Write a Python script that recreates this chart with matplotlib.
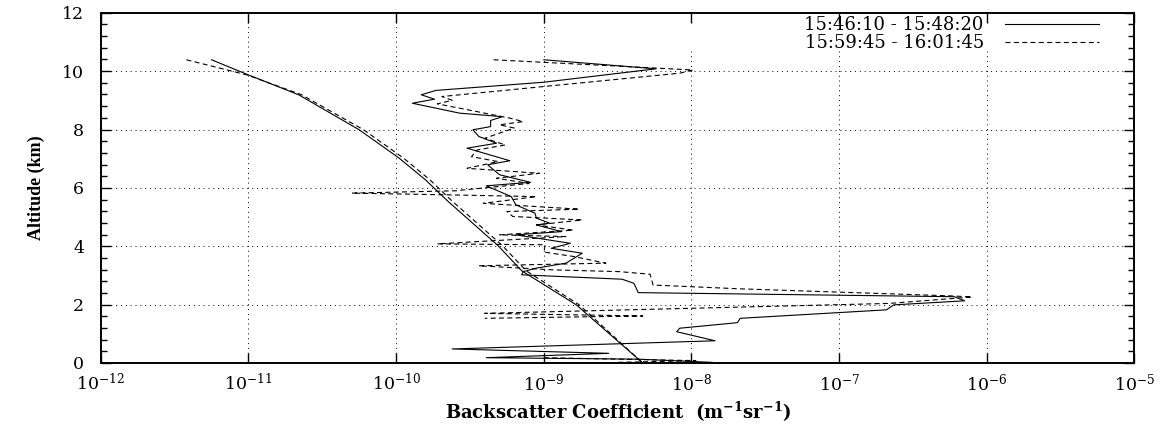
import numpy as np
import matplotlib
matplotlib.use("Agg")
import matplotlib.pyplot as plt
from matplotlib.ticker import MultipleLocator, LogLocator, NullLocator

plt.rcParams['font.family'] = ['DejaVu Serif']
plt.rcParams['mathtext.fontset'] = 'custom'
plt.rcParams['mathtext.rm'] = 'DejaVu Serif'
plt.rcParams['mathtext.bf'] = 'DejaVu Serif:bold'

labels = ['15:46:10 - 15:48:20', '15:59:45 - 16:01:45']

# first profile: altitude (km) and log10 of backscatter (m^-1 sr^-1)
alt_a = [10.39, 10.08, 9.62, 9.34, 9.19, 9.04, 8.90, 8.56, 8.44, 8.31, 8.10,
         7.99, 7.76, 7.53, 7.36, 6.93, 6.79, 6.45, 6.19, 6.07, 5.70, 5.42,
         5.13, 4.96, 4.79, 4.73, 4.50, 4.39, 4.10, 3.93, 3.76, 3.42, 3.25,
         3.13, 3.02, 2.87, 2.73, 2.41, 2.27, 2.13, 1.99, 1.82, 1.53, 1.38,
         1.19, 1.07, 0.76, 0.48, 0.33, 0.18, 0.13, 0.02]
logb_a = [-9.00, -8.24, -9.00, -9.73, -9.83, -9.74, -9.89, -9.57, -9.28, -9.36, -9.36,
          -9.48, -9.44, -9.32, -9.52, -9.23, -9.38, -9.30, -9.09, -9.39, -9.22, -9.19,
          -9.06, -9.05, -8.96, -9.05, -8.88, -9.19, -8.82, -8.95, -8.74, -8.85, -9.05,
          -9.14, -9.15, -8.47, -8.39, -8.36, -6.22, -6.15, -6.63, -6.68, -7.67, -7.69,
          -8.08, -8.10, -7.84, -9.62, -8.56, -9.39, -8.36, -7.86]

# second profile (no data between 1.5 km and 0.2 km)
alt_b = [10.39, 10.04, 9.93, 9.13, 9.00, 8.88, 8.39, 8.27, 8.16, 8.05, 7.70,
         7.47, 7.30, 7.07, 6.90, 6.67, 6.50, 6.33, 6.15, 5.90, 5.82, 5.76,
         5.70, 5.47, 5.27, 5.19, 5.02, 4.90, 4.73, 4.55, 4.39, 4.33, 4.08,
         4.05, 3.80, 3.65, 3.42, 3.33, 3.19, 3.13, 3.04, 2.67, 2.54, 2.30,
         2.26, 2.04, 1.70, 1.61, 1.53, np.nan, 0.18, 0.08, 0.02]
logb_b = [-9.34, -7.99, -8.08, -9.69, -9.62, -9.72, -9.23, -9.14, -9.30, -9.20, -9.40,
          -9.26, -9.45, -9.49, -9.31, -9.52, -9.03, -9.32, -9.10, -9.60, -10.30, -9.64,
          -9.05, -9.41, -8.76, -9.25, -9.21, -8.74, -9.05, -8.80, -9.30, -8.85, -9.72,
          -8.99, -9.00, -8.80, -8.58, -9.44, -8.94, -8.49, -8.28, -8.26, -7.67, -6.25,
          -6.10, -6.66, -9.40, -8.33, -9.40, np.nan, -9.00, -7.97, -8.50]

# molecular reference curves
alt_mol = [10.39, 9.87, 9.19, 7.99, 7.02, 6.27, 5.59, 4.02, 3.16, 1.99, 0.0]
logb_mol_a = [-11.25, -11.00, -10.66, -10.25, -9.98, -9.80, -9.66, -9.31, -9.15, -8.78, -8.33]
logb_mol_b = [-11.42, -11.01, -10.64, -10.22, -9.95, -9.77, -9.63, -9.28, -9.12, -8.76, -8.33]

fig = plt.figure(figsize=(11.72, 4.26), dpi=100)
ax = fig.add_axes([0.086, 0.148, 0.882, 0.822])

dash = (0, (4.5, 3))
l1, = ax.plot(10.0 ** np.array(logb_a), alt_a, color='black', lw=0.8)
l2, = ax.plot(10.0 ** np.array(logb_b), alt_b, color='black', lw=0.8, linestyle=dash)
ax.plot(10.0 ** np.array(logb_mol_a), alt_mol, color='black', lw=0.8)
ax.plot(10.0 ** np.array(logb_mol_b), alt_mol, color='black', lw=0.8, linestyle=dash)

ax.set_xscale('log')
ax.set_xlim(1e-12, 1e-5)
ax.set_ylim(0, 12)
ax.xaxis.set_major_locator(LogLocator(base=10, numticks=10))
ax.xaxis.set_minor_locator(NullLocator())
ax.yaxis.set_major_locator(MultipleLocator(2))
ax.yaxis.set_minor_locator(MultipleLocator(0.4))

# dotted grid; vertical lines right of 1e-8 stop under the key
grid_style = dict(color='black', linestyle=(0, (1, 4)), lw=0.7, zorder=0.5)
for yv in ax.get_yticks():
    if 0 < yv < 12:
        ax.axhline(yv, **grid_style)
for xv in ax.get_xticks():
    if 1e-12 < xv < 1e-5:
        ax.axvline(xv, ymax=0.894 if xv >= 1e-8 else 1.0, **grid_style)

ax.tick_params(which='both', direction='in', top=True, right=True, width=1.0)
ax.tick_params(axis='y', which='major', length=7, labelsize=12.5, pad=12)
ax.tick_params(axis='x', which='major', length=7, labelsize=12.5, pad=7)
ax.tick_params(which='minor', length=4)
for s in ax.spines.values():
    s.set_linewidth(1.4)

ax.set_xlabel(r'Backscatter Coefficient  (m$^{\mathbf{-1}}$sr$^{\mathbf{-1}}$)',
              fontsize=13, fontweight='bold', labelpad=4)
ax.set_ylabel('Altitude (km)', fontsize=13, fontweight='bold', labelpad=12,
              family='Liberation Serif')

leg = ax.legend([l1, l2], labels, loc='upper right', bbox_to_anchor=(0.966, 0.99),
                markerfirst=False, fontsize=13, handlelength=5.2, handletextpad=1.2,
                labelspacing=0.0, borderpad=0.0, borderaxespad=0.0,
                frameon=False)

fig.savefig('out.png', dpi=100)
